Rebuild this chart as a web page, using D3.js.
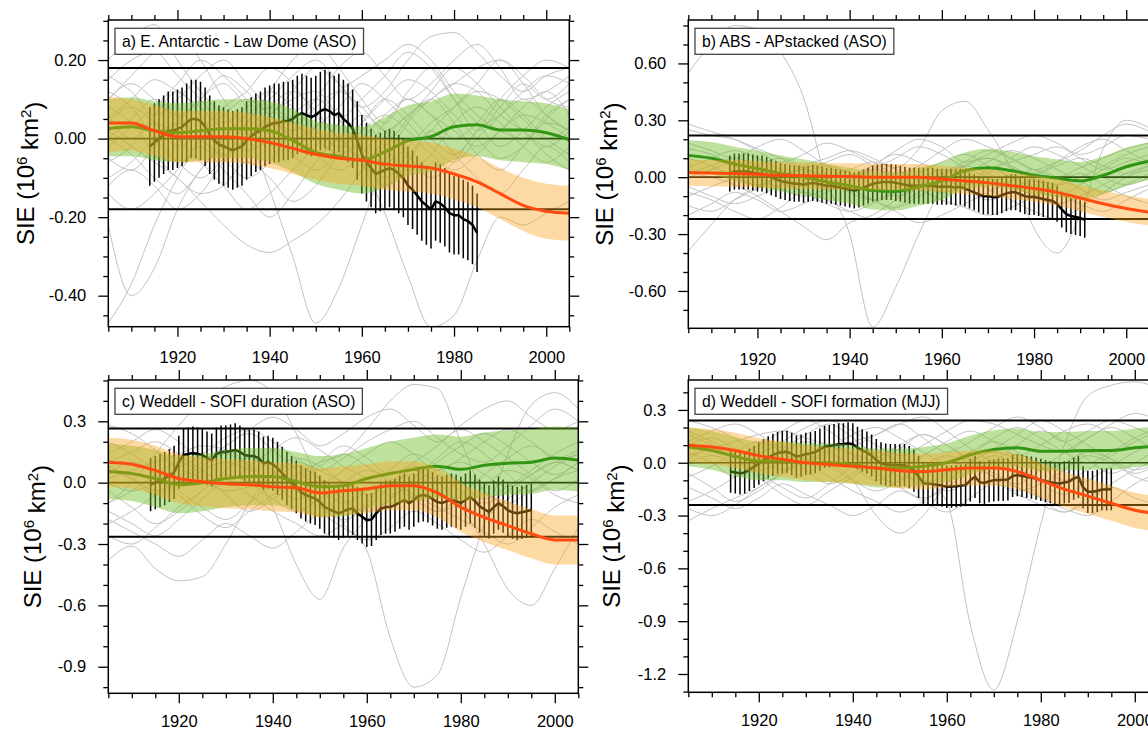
<!DOCTYPE html>
<html>
<head>
<meta charset="utf-8">
<script src="https://cdn.jsdelivr.net/npm/d3@7"></script>
<style>
  body { margin: 0; background: #fff; }
  svg text { font-family: "Liberation Sans", Arial, Helvetica, sans-serif; fill: #000; }
</style>
</head>
<body>
<svg id="chart" width="1148" height="731"></svg>
<script>
// ---------- shared axes ----------
const years = [1905,1910,1915,1920,1925,1930,1935,1940,1945,1950,1955,1960,1965,1970,1975,1980,1985,1990,1995,2000,2005];
const xMajorTicks = [1920,1940,1960,1980,2000];
const xTickLabels = ["1920","1940","1960","1980","2000"];
const yAxisTitle = "SIE (10|6| km|2|)";

// ---------- a) E. Antarctic - Law Dome (ASO) ----------
const aTitle = "a) E. Antarctic - Law Dome (ASO)";
const aYTicks = [-0.40,-0.20,0.00,0.20];
const aYTickLabels = ["-0.40","-0.20","0.00","0.20"];
const aThreshold = 0.18;
const aMembers = [
  [0.05,0.10,0.15,0.12,0.08,0.02,-0.03,0.00,0.06,0.10,0.05,-0.02,-0.06,-0.02,0.04,0.08,0.12,0.10,0.05,0.00,0.03],
  [-0.05,-0.08,-0.02,0.04,0.10,0.14,0.08,0.02,-0.04,-0.08,-0.03,0.04,0.10,0.15,0.12,0.06,0.00,-0.05,-0.02,0.05,0.10],
  [0.12,0.08,0.00,-0.06,-0.10,-0.05,0.02,0.08,0.12,0.07,0.00,-0.05,-0.02,0.05,0.12,0.18,0.14,0.08,0.02,-0.04,-0.08],
  [-0.02,0.03,0.08,0.14,0.20,0.16,0.10,0.04,0.00,0.03,0.08,0.14,0.10,0.04,-0.02,-0.06,0.00,0.06,0.12,0.16,0.14],
  [0.08,0.04,-0.04,-0.10,-0.14,-0.12,-0.06,-0.10,-0.16,-0.12,-0.04,0.02,0.06,0.02,-0.04,-0.08,-0.04,0.02,0.08,0.12,0.06],
  [-0.10,-0.06,0.00,0.04,0.00,-0.05,-0.10,-0.06,0.02,0.08,0.12,0.08,0.02,0.06,0.10,0.04,-0.04,-0.08,-0.02,0.04,0.02],
  [0.15,0.20,0.22,0.16,0.10,0.04,0.08,0.12,0.08,0.02,-0.02,0.04,0.10,0.06,0.00,-0.04,0.02,0.10,0.16,0.20,0.18],
  [0.00,-0.04,-0.10,-0.14,-0.08,0.00,0.06,0.10,0.16,0.20,0.14,0.06,-0.02,-0.08,-0.04,0.04,0.08,0.04,-0.02,-0.06,-0.02],
  [0.04,0.08,0.04,-0.02,0.02,0.08,0.12,0.18,0.14,0.06,0.00,-0.06,-0.10,-0.04,0.02,0.08,0.14,0.20,0.16,0.10,0.08],
  [-0.06,-0.02,0.04,0.00,-0.06,-0.12,-0.18,-0.14,-0.08,-0.02,0.04,0.10,0.16,0.22,0.18,0.10,0.04,-0.02,0.02,0.08,0.12],
  [0.10,0.14,0.10,0.06,0.10,0.16,0.12,0.06,0.00,-0.04,0.00,0.06,0.02,-0.04,-0.10,-0.06,0.02,0.06,0.10,0.06,0.02],
  [-0.12,-0.08,-0.12,-0.18,-0.14,-0.06,0.00,0.04,0.00,-0.04,-0.08,-0.04,0.04,0.10,0.06,0.00,0.04,0.10,0.06,0.00,-0.04],
  [0.16,0.12,0.06,0.10,0.16,0.20,0.14,0.08,0.04,0.10,0.18,0.22,0.16,0.10,0.14,0.20,0.24,0.18,0.10,0.12,0.16],
  [-0.14,-0.18,-0.14,-0.08,-0.02,-0.08,-0.14,-0.20,-0.14,-0.06,0.00,-0.06,-0.12,-0.06,0.02,-0.04,-0.10,-0.14,-0.08,-0.02,-0.06],
  [0.06,0.00,0.06,0.12,0.06,-0.02,0.04,0.12,0.20,0.24,0.18,0.10,0.04,0.12,0.18,0.10,0.02,0.08,0.14,0.10,0.14],
  [-0.47,-0.37,-0.22,-0.10,0.00,0.06,0.10,0.06,0.02,0.06,0.12,0.16,0.20,0.24,0.20,0.12,0.06,0.02,0.00,0.06,0.10],
  [0.10,0.16,0.22,0.26,0.20,0.10,0.02,-0.13,-0.30,-0.47,-0.38,-0.22,-0.06,0.04,0.10,0.14,0.18,0.20,0.14,0.06,0.02],
  [0.00,0.05,0.10,0.06,0.00,-0.04,0.00,0.06,0.10,0.12,0.05,-0.06,-0.19,-0.35,-0.48,-0.45,-0.31,-0.20,-0.22,-0.19,-0.16],
  [-0.22,-0.40,-0.33,-0.18,-0.08,-0.02,0.04,0.08,0.04,0.00,-0.04,0.00,0.06,0.10,0.06,0.02,-0.02,0.02,0.06,0.04,0.00],
  [0.02,-0.02,-0.06,-0.10,-0.16,-0.22,-0.27,-0.29,-0.26,-0.22,-0.16,-0.08,0.00,0.06,0.10,0.14,0.12,0.06,0.02,-0.02,0.02],
  [0.20,0.26,0.29,0.20,0.12,0.06,0.02,0.06,0.12,0.18,0.14,0.08,0.12,0.20,0.26,0.27,0.22,0.16,0.12,0.16,0.18]
];
const aOrangeMean = [0.04,0.04,0.02,0.005,0.005,0.005,0.0,-0.01,-0.025,-0.04,-0.05,-0.055,-0.065,-0.07,-0.075,-0.09,-0.11,-0.14,-0.17,-0.185,-0.19];
const aOrangeHi   = [0.105,0.10,0.085,0.07,0.07,0.07,0.065,0.055,0.04,0.025,0.015,0.01,0.0,-0.005,-0.01,-0.025,-0.045,-0.075,-0.10,-0.115,-0.12];
const aOrangeLo   = [-0.035,-0.03,-0.045,-0.06,-0.06,-0.06,-0.065,-0.075,-0.09,-0.105,-0.115,-0.12,-0.13,-0.135,-0.14,-0.155,-0.175,-0.205,-0.235,-0.255,-0.26];
const aGreenMean  = [0.025,0.03,0.02,0.015,0.02,0.025,0.025,0.02,-0.005,-0.035,-0.045,-0.055,-0.034,-0.005,0.005,0.03,0.035,0.022,0.022,0.015,-0.003];
const aGreenHi    = [0.10,0.105,0.095,0.09,0.095,0.10,0.10,0.095,0.075,0.045,0.035,0.03,0.055,0.085,0.095,0.115,0.11,0.10,0.095,0.09,0.075];
const aGreenLo    = [-0.045,-0.045,-0.055,-0.06,-0.055,-0.05,-0.05,-0.06,-0.085,-0.115,-0.13,-0.14,-0.125,-0.095,-0.085,-0.055,-0.045,-0.055,-0.06,-0.065,-0.08];
const aObsStart = 1914;
const aObsErr = 0.10;
const aObs = [-0.02,-0.01,0.00,0.01,0.02,0.02,0.025,0.03,0.04,0.05,0.05,0.045,0.03,0.01,-0.005,-0.015,-0.02,-0.025,-0.03,-0.025,
  -0.02,-0.005,0.005,0.015,0.02,0.03,0.035,0.04,0.04,0.045,0.045,0.05,0.06,0.065,0.06,0.055,0.06,0.07,0.075,0.07,
  0.06,0.065,0.05,0.04,0.025,-0.005,-0.04,-0.06,-0.075,-0.09,-0.085,-0.08,-0.075,-0.08,-0.09,-0.10,-0.12,-0.13,-0.145,-0.16,
  -0.17,-0.18,-0.16,-0.165,-0.175,-0.19,-0.195,-0.195,-0.205,-0.21,-0.22,-0.24];

// ---------- b) ABS - APstacked (ASO) ----------
const bTitle = "b) ABS - APstacked (ASO)";
const bYTicks = [-0.60,-0.30,0.00,0.30,0.60];
const bYTickLabels = ["-0.60","-0.30","0.00","0.30","0.60"];
const bThreshold = 0.22;
const bMembers = [
  [0.25,0.22,0.20,0.15,0.10,0.05,0.08,0.12,0.06,0.00,-0.04,0.02,0.08,0.14,0.10,0.04,0.00,0.05,0.10,0.15,0.18],
  [-0.10,-0.05,0.00,0.06,0.10,0.05,-0.02,-0.08,-0.12,-0.06,0.02,0.08,0.12,0.06,0.00,-0.06,-0.10,-0.04,0.04,0.10,0.06],
  [0.05,0.10,0.14,0.10,0.04,-0.02,-0.06,-0.02,0.04,0.10,0.16,0.12,0.05,0.00,-0.05,0.00,0.08,0.16,0.20,0.14,0.08],
  [-0.05,-0.10,-0.14,-0.10,-0.04,0.02,0.06,0.02,-0.04,-0.10,-0.06,0.00,0.06,0.02,-0.04,-0.10,-0.14,-0.10,-0.04,0.02,0.06],
  [0.15,0.12,0.06,0.00,-0.06,-0.10,-0.06,0.00,0.06,0.12,0.08,0.02,-0.04,0.02,0.10,0.16,0.12,0.06,0.00,-0.04,0.00],
  [-0.15,-0.18,-0.12,-0.06,0.00,0.04,0.00,-0.06,-0.12,-0.16,-0.10,-0.04,0.02,0.08,0.14,0.10,0.04,-0.02,-0.08,-0.04,0.02],
  [0.28,0.24,0.20,0.14,0.08,0.12,0.18,0.14,0.08,0.02,0.06,0.14,0.20,0.16,0.10,0.04,0.08,0.14,0.22,0.28,0.24],
  [0.00,0.04,0.08,0.04,-0.02,-0.08,-0.14,-0.18,-0.14,-0.08,-0.02,0.04,0.00,-0.06,-0.12,-0.18,-0.22,-0.16,-0.08,0.00,0.04],
  [0.10,0.06,0.00,-0.04,0.00,0.06,0.10,0.14,0.10,0.04,-0.02,-0.08,-0.04,0.04,0.08,0.12,0.16,0.10,0.04,0.08,0.12],
  [-0.20,-0.14,-0.08,-0.12,-0.18,-0.14,-0.08,-0.02,0.04,0.00,-0.06,-0.12,-0.16,-0.20,-0.16,-0.10,-0.04,0.02,-0.04,-0.10,-0.14],
  [0.18,0.14,0.10,0.16,0.20,0.14,0.06,0.00,0.06,0.14,0.20,0.16,0.08,0.12,0.18,0.22,0.18,0.12,0.16,0.22,0.20],
  [-0.08,-0.12,-0.18,-0.22,-0.16,-0.08,-0.12,-0.18,-0.22,-0.16,-0.08,-0.02,-0.06,-0.12,-0.08,-0.02,-0.08,-0.14,-0.18,-0.12,-0.06],
  [0.55,0.70,0.80,0.78,0.66,0.42,-0.02,-0.30,-0.79,-0.58,-0.30,-0.06,0.06,0.10,0.05,0.02,0.06,0.10,0.06,0.02,0.06],
  [0.02,0.06,0.10,0.06,0.00,-0.04,0.00,0.04,0.08,0.05,0.15,0.35,0.40,0.25,0.04,-0.27,-0.40,-0.20,0.15,0.30,0.26],
  [-0.39,-0.25,-0.12,-0.05,0.00,0.04,0.00,-0.06,-0.12,-0.18,-0.24,-0.20,-0.14,-0.08,-0.02,0.04,0.00,-0.06,-0.12,-0.08,-0.04],
  [0.02,0.00,-0.04,-0.10,-0.18,-0.26,-0.33,-0.24,-0.20,-0.12,-0.04,0.02,0.06,0.10,0.06,0.00,-0.04,0.00,0.06,0.12,0.16]
];
const bOrangeMean = [0.025,0.022,0.02,0.015,0.01,0.008,0.005,0.003,0.0,0.0,0.0,-0.01,-0.02,-0.03,-0.045,-0.06,-0.08,-0.11,-0.14,-0.165,-0.185];
const bOrangeHi   = [0.095,0.09,0.09,0.085,0.08,0.078,0.075,0.073,0.07,0.07,0.07,0.06,0.05,0.04,0.025,0.01,-0.01,-0.04,-0.07,-0.095,-0.115];
const bOrangeLo   = [-0.045,-0.048,-0.05,-0.055,-0.06,-0.062,-0.065,-0.067,-0.07,-0.07,-0.07,-0.08,-0.09,-0.10,-0.115,-0.13,-0.15,-0.18,-0.21,-0.235,-0.255];
const bGreenMean  = [0.115,0.10,0.07,0.045,0.02,0.0,-0.025,-0.045,-0.07,-0.075,-0.05,-0.02,0.035,0.05,0.035,0.01,-0.005,-0.02,0.01,0.055,0.085];
const bGreenHi    = [0.195,0.185,0.16,0.14,0.115,0.095,0.07,0.05,0.03,0.025,0.05,0.08,0.13,0.15,0.135,0.11,0.095,0.08,0.11,0.155,0.185];
const bGreenLo    = [0.03,0.015,-0.02,-0.05,-0.075,-0.095,-0.12,-0.14,-0.17,-0.175,-0.15,-0.12,-0.065,-0.05,-0.065,-0.09,-0.105,-0.12,-0.09,-0.045,-0.015];
const bObsStart = 1914;
const bObsErr = 0.095;
const bObs = [0.02,0.03,0.03,0.03,0.03,0.025,0.02,0.02,0.01,0.00,-0.01,-0.02,-0.025,-0.03,-0.035,-0.035,-0.04,-0.035,-0.03,-0.035,
  -0.04,-0.045,-0.045,-0.05,-0.055,-0.06,-0.065,-0.07,-0.065,-0.055,-0.045,-0.035,-0.03,-0.025,-0.025,-0.025,-0.03,-0.035,-0.04,-0.045,
  -0.045,-0.045,-0.045,-0.045,-0.045,-0.05,-0.05,-0.05,-0.05,-0.055,-0.05,-0.06,-0.07,-0.08,-0.09,-0.10,-0.10,-0.105,-0.105,-0.095,
  -0.085,-0.08,-0.08,-0.09,-0.10,-0.105,-0.105,-0.11,-0.115,-0.12,-0.125,-0.14,-0.17,-0.195,-0.205,-0.21,-0.215,-0.225];

// ---------- c) Weddell - SOFI duration (ASO) ----------
const cTitle = "c) Weddell - SOFI duration (ASO)";
const cYTicks = [-0.9,-0.6,-0.3,0.0,0.3];
const cYTickLabels = ["-0.9","-0.6","-0.3","0.0","0.3"];
const cThreshold = 0.265;
const cMembers = [
  [0.10,0.15,0.20,0.14,0.06,0.00,0.08,0.16,0.22,0.16,0.08,0.02,-0.06,0.02,0.10,0.18,0.24,0.18,0.10,0.04,0.10],
  [-0.10,-0.04,0.04,0.10,0.04,-0.06,-0.14,-0.08,0.00,0.08,0.14,0.08,0.00,-0.08,-0.14,-0.06,0.04,0.12,0.18,0.12,0.06],
  [0.20,0.14,0.06,-0.04,-0.12,-0.18,-0.10,0.00,0.08,0.02,-0.08,-0.14,-0.08,0.02,0.12,0.20,0.14,0.04,-0.04,0.02,0.10],
  [-0.20,-0.14,-0.06,0.02,0.10,0.18,0.24,0.16,0.06,-0.02,-0.10,-0.04,0.06,0.14,0.08,0.00,-0.08,-0.02,0.06,0.14,0.20],
  [0.04,0.10,0.04,-0.06,-0.16,-0.22,-0.14,-0.06,0.02,0.10,0.18,0.12,0.04,0.10,0.18,0.26,0.20,0.12,0.04,-0.04,0.02],
  [-0.04,-0.12,-0.20,-0.14,-0.04,0.06,0.12,0.06,-0.04,-0.12,-0.18,-0.12,-0.02,0.06,0.00,-0.10,-0.16,-0.08,0.00,0.08,0.14],
  [0.28,0.24,0.16,0.08,0.14,0.22,0.26,0.20,0.12,0.06,0.12,0.20,0.26,0.30,0.22,0.14,0.10,0.18,0.28,0.36,0.30],
  [-0.14,-0.20,-0.26,-0.18,-0.08,0.00,-0.06,-0.14,-0.20,-0.26,-0.20,-0.10,0.00,-0.06,-0.12,-0.18,-0.24,-0.30,-0.22,-0.12,-0.06],
  [0.08,0.02,-0.06,0.00,0.08,0.14,0.08,0.00,-0.08,-0.02,0.06,0.14,0.20,0.14,0.06,0.12,0.20,0.26,0.20,0.12,0.16],
  [-0.26,-0.30,-0.22,-0.12,-0.04,0.04,0.00,-0.08,-0.14,-0.08,0.00,0.06,0.02,-0.06,-0.14,-0.10,-0.02,0.06,0.02,-0.06,-0.10],
  [0.14,0.20,0.26,0.20,0.12,0.18,0.26,0.32,0.26,0.18,0.24,0.32,0.36,0.28,0.20,0.28,0.36,0.40,0.32,0.26,0.30],
  [-0.18,-0.24,-0.30,-0.36,-0.28,-0.20,-0.26,-0.32,-0.24,-0.16,-0.22,-0.28,-0.22,-0.14,-0.20,-0.28,-0.34,-0.26,-0.18,-0.24,-0.30],
  [-0.38,-0.31,-0.42,-0.48,-0.46,-0.30,-0.10,0.04,0.12,0.08,0.00,-0.06,0.00,0.08,0.04,-0.04,-0.10,-0.04,0.04,0.10,0.06],
  [0.02,0.06,0.10,0.14,0.18,0.16,0.08,-0.12,-0.40,-0.57,-0.32,-0.18,-0.08,0.00,0.06,0.10,0.04,-0.02,0.04,0.10,0.14],
  [-0.10,0.00,0.14,0.28,0.40,0.47,0.50,0.44,0.24,0.00,-0.20,-0.33,-0.76,-1.00,-0.94,-0.56,-0.20,0.14,0.38,0.44,0.36],
  [0.06,0.02,-0.04,0.00,0.06,0.10,0.06,0.00,0.04,0.10,0.14,0.26,0.40,0.48,0.46,0.20,-0.04,-0.10,-0.04,0.02,0.06],
  [0.00,-0.04,0.00,0.06,0.02,-0.04,-0.02,0.04,0.10,0.06,0.00,-0.04,0.00,0.04,-0.04,-0.12,-0.30,-0.52,-0.60,-0.42,-0.22]
];
const cOrangeMean = [0.10,0.09,0.06,0.02,0.005,-0.005,-0.01,-0.02,-0.025,-0.05,-0.04,-0.03,-0.015,-0.015,-0.05,-0.12,-0.17,-0.21,-0.25,-0.28,-0.28];
const cOrangeHi   = [0.22,0.21,0.18,0.14,0.125,0.115,0.11,0.10,0.095,0.07,0.08,0.09,0.105,0.105,0.07,0.0,-0.05,-0.09,-0.13,-0.16,-0.16];
const cOrangeLo   = [-0.02,-0.03,-0.06,-0.10,-0.115,-0.125,-0.13,-0.14,-0.145,-0.17,-0.16,-0.15,-0.135,-0.135,-0.17,-0.24,-0.29,-0.33,-0.37,-0.40,-0.40];
const cGreenMean  = [0.055,0.045,0.02,-0.01,0.0,0.02,0.03,0.03,0.005,-0.02,-0.015,0.02,0.045,0.065,0.08,0.065,0.085,0.095,0.10,0.12,0.11];
const cGreenHi    = [0.19,0.18,0.16,0.13,0.14,0.16,0.17,0.17,0.15,0.13,0.14,0.17,0.20,0.22,0.235,0.225,0.245,0.255,0.26,0.275,0.265];
const cGreenLo    = [-0.08,-0.09,-0.12,-0.15,-0.14,-0.12,-0.11,-0.11,-0.135,-0.165,-0.165,-0.13,-0.105,-0.09,-0.075,-0.09,-0.07,-0.06,-0.055,-0.035,-0.045];
const cObsStart = 1914;
const cObsErr = 0.13;
const cObs = [-0.01,0.00,0.01,0.02,0.035,0.05,0.10,0.135,0.14,0.145,0.14,0.135,0.12,0.11,0.14,0.15,0.15,0.155,0.16,0.15,
  0.135,0.13,0.13,0.12,0.095,0.10,0.09,0.07,0.046,0.02,0.0,-0.02,-0.045,-0.06,-0.07,-0.077,-0.095,-0.118,-0.13,-0.14,
  -0.15,-0.14,-0.13,-0.126,-0.15,-0.167,-0.184,-0.18,-0.15,-0.126,-0.12,-0.118,-0.11,-0.095,-0.085,-0.10,-0.085,-0.065,-0.06,-0.065,
  -0.08,-0.095,-0.10,-0.09,-0.085,-0.09,-0.10,-0.085,-0.07,-0.09,-0.115,-0.13,-0.143,-0.12,-0.10,-0.115,-0.135,-0.145,-0.15,-0.145,
  -0.14,-0.134];

// ---------- d) Weddell - SOFI formation (MJJ) ----------
const dTitle = "d) Weddell - SOFI formation (MJJ)";
const dYTicks = [-1.2,-0.9,-0.6,-0.3,0.0,0.3];
const dYTickLabels = ["-1.2","-0.9","-0.6","-0.3","0.0","0.3"];
const dThreshold = 0.24;
const dMembers = [
  [0.12,0.18,0.22,0.16,0.08,0.02,0.08,0.16,0.20,0.14,0.06,0.00,0.06,0.14,0.20,0.14,0.06,0.00,0.06,0.14,0.20],
  [-0.08,-0.02,0.06,0.12,0.06,-0.04,-0.12,-0.06,0.02,0.10,0.16,0.10,0.02,-0.06,-0.12,-0.04,0.06,0.14,0.20,0.14,0.06],
  [0.18,0.12,0.04,-0.06,-0.14,-0.20,-0.12,-0.02,0.06,0.00,-0.10,-0.16,-0.10,0.00,0.10,0.18,0.12,0.02,-0.06,0.00,0.08],
  [-0.22,-0.16,-0.08,0.00,0.08,0.16,0.22,0.14,0.04,-0.04,-0.12,-0.06,0.04,0.12,0.06,-0.02,-0.10,-0.04,0.04,0.12,0.18],
  [0.02,0.08,0.02,-0.08,-0.18,-0.24,-0.16,-0.08,0.00,0.08,0.16,0.10,0.02,0.08,0.16,0.24,0.18,0.10,0.02,-0.06,0.00],
  [-0.06,-0.14,-0.22,-0.16,-0.06,0.04,0.10,0.04,-0.06,-0.14,-0.20,-0.14,-0.04,0.04,-0.02,-0.12,-0.18,-0.10,-0.02,0.06,0.12],
  [0.24,0.20,0.14,0.06,0.12,0.20,0.24,0.18,0.10,0.04,0.10,0.18,0.24,0.22,0.16,0.10,0.06,0.14,0.22,0.28,0.24],
  [-0.33,-0.26,-0.20,-0.14,-0.06,0.00,-0.08,-0.16,-0.22,-0.28,-0.22,-0.12,-0.02,-0.08,-0.14,-0.20,-0.26,-0.30,-0.22,-0.12,-0.06],
  [0.06,0.00,-0.08,-0.02,0.06,0.12,0.06,-0.02,-0.10,-0.04,0.04,0.12,0.18,0.12,0.04,0.10,0.18,0.22,0.16,0.08,0.12],
  [-0.26,-0.30,-0.24,-0.14,-0.06,0.02,-0.02,-0.10,-0.16,-0.10,-0.02,0.04,0.00,-0.08,-0.16,-0.12,-0.04,0.04,0.00,-0.08,-0.12],
  [0.16,0.10,0.04,0.10,0.18,0.24,0.18,0.10,0.16,0.22,0.14,0.06,0.12,0.20,0.26,0.20,0.12,0.18,0.24,0.20,0.14],
  [-0.14,-0.20,-0.26,-0.20,-0.12,-0.18,-0.24,-0.30,-0.24,-0.16,-0.22,-0.28,-0.20,-0.12,-0.18,-0.24,-0.28,-0.20,-0.14,-0.20,-0.24],
  [0.04,0.08,0.12,0.16,0.18,0.14,0.10,0.05,0.00,-0.08,-0.10,-0.22,-0.92,-1.29,-0.90,-0.35,0.10,0.38,0.44,0.46,0.42],
  [0.00,0.04,0.00,-0.04,0.00,0.04,0.00,-0.10,-0.30,-0.40,-0.30,-0.12,0.00,0.06,0.02,-0.04,0.00,0.06,0.02,-0.04,0.00],
  [0.10,0.14,0.08,0.02,-0.04,0.00,0.06,0.12,0.16,0.22,0.26,0.18,0.08,0.00,-0.06,-0.20,-0.28,-0.22,-0.12,-0.04,0.02]
];
const dOrangeMean = [0.10,0.09,0.07,0.04,0.02,0.0,-0.01,-0.02,-0.03,-0.045,-0.05,-0.04,-0.03,-0.03,-0.05,-0.10,-0.15,-0.19,-0.23,-0.27,-0.29];
const dOrangeHi   = [0.20,0.19,0.17,0.14,0.12,0.10,0.09,0.08,0.07,0.055,0.05,0.06,0.07,0.07,0.05,0.0,-0.05,-0.09,-0.13,-0.17,-0.19];
const dOrangeLo   = [0.0,-0.01,-0.03,-0.06,-0.08,-0.10,-0.11,-0.12,-0.13,-0.145,-0.15,-0.14,-0.13,-0.13,-0.15,-0.20,-0.25,-0.29,-0.33,-0.37,-0.39];
const dGreenMean  = [0.09,0.07,0.035,0.01,0.01,0.0,0.0,-0.01,-0.03,-0.03,-0.02,0.0,0.045,0.075,0.085,0.065,0.065,0.07,0.07,0.085,0.095];
const dGreenHi    = [0.20,0.18,0.145,0.12,0.12,0.11,0.11,0.10,0.08,0.08,0.09,0.11,0.155,0.185,0.195,0.175,0.175,0.18,0.18,0.195,0.205];
const dGreenLo    = [-0.02,-0.04,-0.075,-0.10,-0.10,-0.11,-0.11,-0.12,-0.14,-0.14,-0.13,-0.11,-0.065,-0.035,-0.025,-0.045,-0.045,-0.04,-0.04,-0.025,-0.015];
const dObsStart = 1914;
const dObsErr = 0.12;
const dObs = [-0.05,-0.055,-0.06,-0.055,-0.04,-0.023,-0.005,0.015,0.03,0.045,0.055,0.06,0.063,0.05,0.035,0.04,0.05,0.053,0.06,0.075,
  0.09,0.095,0.10,0.105,0.105,0.11,0.105,0.085,0.07,0.058,0.04,0.015,-0.004,-0.01,-0.013,-0.013,-0.015,-0.013,-0.025,-0.045,
  -0.08,-0.115,-0.12,-0.12,-0.125,-0.13,-0.137,-0.135,-0.133,-0.13,-0.127,-0.10,-0.08,-0.11,-0.115,-0.105,-0.10,-0.098,-0.097,-0.095,
  -0.075,-0.07,-0.075,-0.08,-0.085,-0.09,-0.098,-0.105,-0.11,-0.115,-0.118,-0.112,-0.108,-0.09,-0.08,-0.14,-0.165,-0.165,-0.16,-0.152,
  -0.152,-0.15];

// ---------- layout ----------
const panels = [
  { id: "a", title: aTitle, left: 108.3, top: 20,  width: 461, height: 306.7, yDomain: [-0.479, 0.302], minorStep: 0.05,
    yTicks: aYTicks, yLabels: aYTickLabels, thr: aThreshold, members: aMembers,
    oMean: aOrangeMean, oHi: aOrangeHi, oLo: aOrangeLo, gMean: aGreenMean, gHi: aGreenHi, gLo: aGreenLo,
    obs: aObs, obsStart: aObsStart, obsErr: aObsErr, titleX: 33.5, xPad: 15 },
  { id: "b", title: bTitle, left: 688.3, top: 20,  width: 461, height: 308.3, yDomain: [-0.797, 0.829], minorStep: 0.1,
    yTicks: bYTicks, yLabels: bYTickLabels, thr: bThreshold, members: bMembers,
    oMean: bOrangeMean, oHi: bOrangeHi, oLo: bOrangeLo, gMean: bGreenMean, gHi: bGreenHi, gLo: bGreenLo,
    obs: bObs, obsStart: bObsStart, obsErr: bObsErr, titleX: 612.5, xPad: 15 },
  { id: "c", title: cTitle, left: 108.3, top: 380, width: 470, height: 313.3, yDomain: [-1.03, 0.502], minorStep: 0.1,
    yTicks: cYTicks, yLabels: cYTickLabels, thr: cThreshold, members: cMembers,
    oMean: cOrangeMean, oHi: cOrangeHi, oLo: cOrangeLo, gMean: cGreenMean, gHi: cGreenHi, gLo: cGreenLo,
    obs: cObs, obsStart: cObsStart, obsErr: cObsErr, titleX: 41, xPad: 12 },
  { id: "d", title: dTitle, left: 688.3, top: 380, width: 470, height: 312.3, yDomain: [-1.304, 0.47], minorStep: 0.1,
    yTicks: dYTicks, yLabels: dYTickLabels, thr: dThreshold, members: dMembers,
    oMean: dOrangeMean, oHi: dOrangeHi, oLo: dOrangeLo, gMean: dGreenMean, gHi: dGreenHi, gLo: dGreenLo,
    obs: dObs, obsStart: dObsStart, obsErr: dObsErr, titleX: 620, xPad: 12 }
];

const COLORS = {
  member: "#c2c2c2",
  greenBand: "rgb(110,190,40)",
  orangeBand: "rgb(250,160,25)",
  greenLine: "rgb(50,150,20)",
  orangeLine: "rgb(255,75,15)",
  obs: "#000"
};
const GREEN_OPACITY = 0.45;
const ORANGE_OPACITY = 0.40;

const svg = d3.select("#chart");

function drawPanel(p) {
  const g = svg.append("g").attr("transform", `translate(${p.left},${p.top})`);
  const x = d3.scaleLinear().domain([1905, 2005]).range([0, p.width]);
  const y = d3.scaleLinear().domain(p.yDomain).range([p.height, 0]);

  const clipId = "clip-" + p.id;
  g.append("clipPath").attr("id", clipId)
    .append("rect").attr("width", p.width).attr("height", p.height);
  const plot = g.append("g").attr("clip-path", `url(#${clipId})`);

  // ensemble members
  const memberLine = d3.line().x((d, i) => x(years[i])).y(d => y(d)).curve(d3.curveMonotoneX);
  plot.selectAll("path.member").data(p.members).join("path")
    .attr("class", "member").attr("d", memberLine)
    .attr("fill", "none").attr("stroke", COLORS.member).attr("stroke-width", 1);

  // zero and threshold lines
  plot.append("line").attr("x1", 0).attr("x2", p.width).attr("y1", y(0)).attr("y2", y(0))
    .attr("stroke", "#000").attr("stroke-width", 1.7);
  [p.thr, -p.thr].forEach(v => {
    plot.append("line").attr("x1", 0).attr("x2", p.width).attr("y1", y(v)).attr("y2", y(v))
      .attr("stroke", "#000").attr("stroke-width", 2);
  });

  // reconstruction with uncertainty bars
  plot.selectAll("line.err").data(p.obs).join("line")
    .attr("class", "err")
    .attr("x1", (d, i) => x(p.obsStart + i)).attr("x2", (d, i) => x(p.obsStart + i))
    .attr("y1", d => y(d + p.obsErr)).attr("y2", d => y(d - p.obsErr))
    .attr("stroke", COLORS.obs).attr("stroke-width", 1.5);
  plot.append("path").datum(p.obs)
    .attr("d", d3.line().x((d, i) => x(p.obsStart + i)).y(d => y(d)))
    .attr("fill", "none").attr("stroke", COLORS.obs).attr("stroke-width", 2.5).attr("stroke-linejoin", "round");

  // ensemble spread bands and means: green first, orange on top
  const band = d3.area().x((d, i) => x(years[i])).y0(d => y(d[0])).y1(d => y(d[1])).curve(d3.curveMonotoneX);
  const meanLine = d3.line().x((d, i) => x(years[i])).y(d => y(d)).curve(d3.curveMonotoneX);

  plot.append("path").datum(p.gLo.map((v, i) => [v, p.gHi[i]])).attr("d", band)
    .attr("fill", COLORS.greenBand).attr("fill-opacity", GREEN_OPACITY);
  plot.append("path").datum(p.gMean).attr("d", meanLine)
    .attr("fill", "none").attr("stroke", COLORS.greenLine).attr("stroke-width", 3);

  plot.append("path").datum(p.oLo.map((v, i) => [v, p.oHi[i]])).attr("d", band)
    .attr("fill", COLORS.orangeBand).attr("fill-opacity", ORANGE_OPACITY);
  plot.append("path").datum(p.oMean).attr("d", meanLine)
    .attr("fill", "none").attr("stroke", COLORS.orangeLine).attr("stroke-width", 3);

  // panel label box
  const lbl = g.append("g").attr("transform", "translate(6.7,8.3)");
  const rect = lbl.append("rect").attr("height", 26).attr("fill", "#fff")
    .attr("stroke", "#444").attr("stroke-width", 1.3);
  const t = lbl.append("text").attr("x", 7).attr("y", 18.7)
    .style("font-size", "15.7px").text(p.title);
  rect.attr("width", t.node().getComputedTextLength() + 14);

  // frame
  g.append("rect").attr("width", p.width).attr("height", p.height)
    .attr("fill", "none").attr("stroke", "#000").attr("stroke-width", 1.5);

  // ticks
  const xMinor = d3.range(1905, 2006, 5).filter(v => !xMajorTicks.includes(v));
  const [y0, y1] = p.yDomain;
  const yMinor = d3.range(Math.ceil(y0 / p.minorStep - 1e-6), Math.floor(y1 / p.minorStep + 1e-6) + 1)
    .map(k => +(k * p.minorStep).toFixed(3))
    .filter(v => !p.yTicks.some(t => Math.abs(t - v) < 1e-6));

  function styleAxis(sel) {
    sel.select(".domain").remove();
    sel.selectAll(".tick line").attr("stroke", "#000").attr("stroke-width", 1.3);
    sel.selectAll(".tick text").style("font-size", "16.5px").attr("fill", "#000");
  }
  const fmtX = d => xTickLabels[xMajorTicks.indexOf(d)];
  const fmtY = d => p.yLabels[p.yTicks.indexOf(d)];

  g.append("g").attr("transform", `translate(0,${p.height})`)
    .call(d3.axisBottom(x).tickValues(xMajorTicks).tickSize(10).tickPadding(p.xPad).tickFormat(fmtX)).call(styleAxis);
  g.append("g").attr("transform", `translate(0,${p.height})`)
    .call(d3.axisBottom(x).tickValues(xMinor).tickSize(5).tickFormat("")).call(styleAxis);
  g.append("g").call(d3.axisTop(x).tickValues(xMajorTicks).tickSize(10).tickFormat("")).call(styleAxis);
  g.append("g").call(d3.axisTop(x).tickValues(xMinor).tickSize(5).tickFormat("")).call(styleAxis);

  g.append("g").call(d3.axisLeft(y).tickValues(p.yTicks).tickSize(10).tickPadding(12).tickFormat(fmtY)).call(styleAxis);
  g.append("g").call(d3.axisLeft(y).tickValues(yMinor).tickSize(5).tickFormat("")).call(styleAxis);
  g.append("g").attr("transform", `translate(${p.width},0)`)
    .call(d3.axisRight(y).tickValues(p.yTicks).tickSize(10).tickFormat("")).call(styleAxis);
  g.append("g").attr("transform", `translate(${p.width},0)`)
    .call(d3.axisRight(y).tickValues(yMinor).tickSize(5).tickFormat("")).call(styleAxis);

  // y axis title with superscripts
  const cy = p.top + p.height / 2;
  const title = svg.append("text")
    .attr("transform", `translate(${p.titleX},${cy}) rotate(-90)`)
    .attr("text-anchor", "middle").style("font-size", "24px");
  yAxisTitle.split("|").forEach((part, i) => {
    const sup = i % 2 === 1;
    const ts = title.append("tspan").text(part);
    if (sup) ts.attr("dy", "-0.45em").style("font-size", "15px");
    else if (i > 0) ts.attr("dy", "0.45em");
  });
}

panels.forEach(drawPanel);
</script>
</body>
</html>
